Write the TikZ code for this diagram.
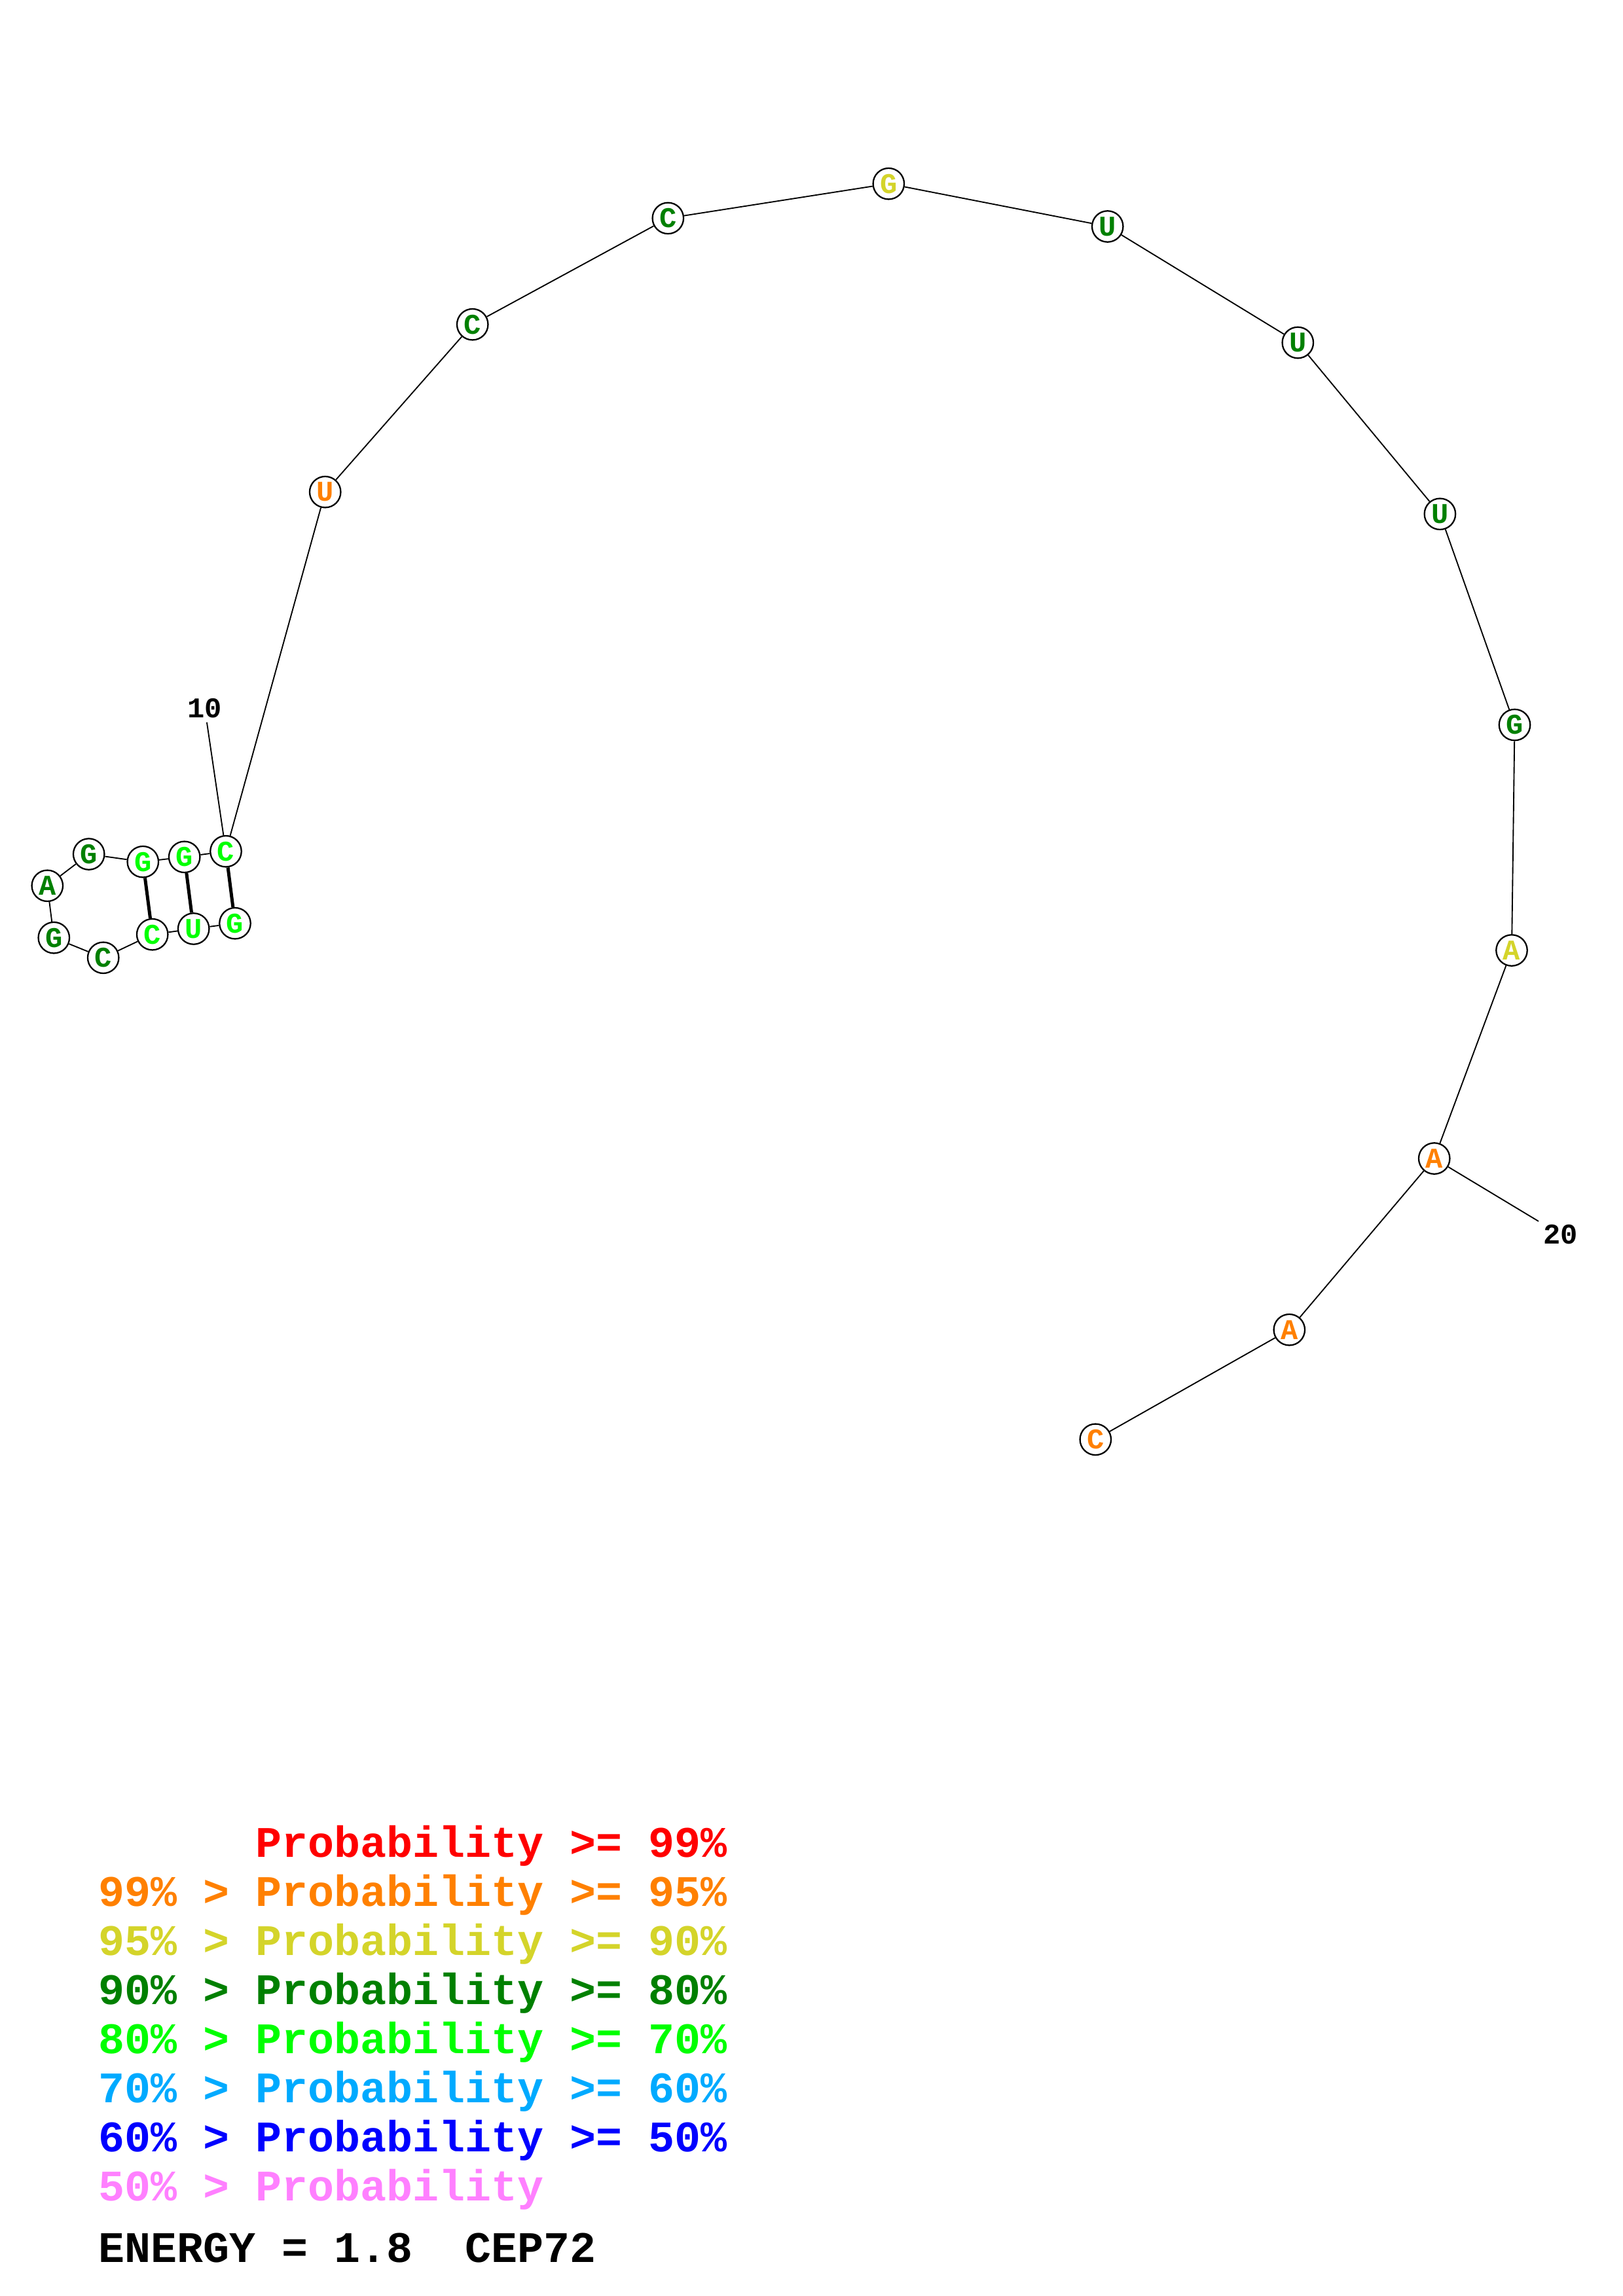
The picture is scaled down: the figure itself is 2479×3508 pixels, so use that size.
\documentclass[tikz,border=0pt]{standalone}
\usepackage{fontspec}
\setmonofont{Liberation Mono}
\definecolor{pred}{HTML}{FF0000}
\definecolor{porange}{HTML}{FF8000}
\definecolor{pyellow}{HTML}{D4D42A}
\definecolor{pdgreen}{HTML}{008000}
\definecolor{plime}{HTML}{00FF00}
\definecolor{psky}{HTML}{00AAFF}
\definecolor{pblue}{HTML}{0000FF}
\definecolor{ppink}{HTML}{FF80FF}
\begin{document}
\begin{tikzpicture}[x=0.24013pt,y=-0.24013pt,
  nt/.style={circle, draw=black, line width=0.55pt, fill=white, minimum size=11.4pt, inner sep=0pt,
    font=\ttfamily\bfseries\fontsize{10.5}{12}\selectfont},
  numlab/.style={inner sep=1.5pt, font=\ttfamily\bfseries\fontsize{10.5}{12}\selectfont},
  bb/.style={line width=0.45pt},
  pairline/.style={line width=1.2pt},
  leg/.style={anchor=base west, inner sep=0pt, font=\ttfamily\bfseries\fontsize{16}{18}\selectfont}]
\useasboundingbox (0,0) rectangle (2479,3508);
% nucleotides
\node[nt, text=plime]   (n1)  at (359,1410.7) {G};
\node[nt, text=plime]   (n2)  at (295.7,1419) {U};
\node[nt, text=plime]   (n3)  at (232.7,1427.7) {C};
\node[nt, text=pdgreen] (n4)  at (157.7,1463.3) {C};
\node[nt, text=pdgreen] (n5)  at (82.3,1432.7) {G};
\node[nt, text=pdgreen] (n6)  at (72.3,1353.3) {A};
\node[nt, text=pdgreen] (n7)  at (135.7,1305) {G};
\node[nt, text=plime]   (n8)  at (218.3,1316.7) {G};
\node[nt, text=plime]   (n9)  at (281.7,1309.3) {G};
\node[nt, text=plime]   (n10) at (345,1300.7) {C};
\node[nt, text=porange] (n11) at (496.7,751.7) {U};
\node[nt, text=pdgreen] (n12) at (721.7,495.7) {C};
\node[nt, text=pdgreen] (n13) at (1020.3,333.4) {C};
\node[nt, text=pyellow] (n14) at (1357.3,280.7) {G};
\node[nt, text=pdgreen] (n15) at (1691.7,346) {U};
\node[nt, text=pdgreen] (n16) at (1982.3,523.5) {U};
\node[nt, text=pdgreen] (n17) at (2199.4,785.3) {U};
\node[nt, text=pdgreen] (n18) at (2313.5,1107.5) {G};
\node[nt, text=pyellow] (n19) at (2309,1452) {A};
\node[nt, text=porange] (n20) at (2190.7,1770) {A};
\node[nt, text=porange] (n21) at (1969.3,2031.7) {A};
\node[nt, text=porange] (n22) at (1673.3,2199.3) {C};
% backbone
\foreach \a/\b in {1/2,2/3,3/4,4/5,5/6,6/7,7/8,8/9,9/10,10/11,11/12,12/13,13/14,14/15,15/16,16/17,17/18,18/19,19/20,20/21,21/22}
  \draw[bb] (n\a) -- (n\b);
% pairs
\draw[pairline] (n1) -- (n10);
\draw[pairline] (n2) -- (n9);
\draw[pairline] (n3) -- (n8);
% number labels
\node[numlab] (l10) at (312.7,1081.7) {10};
\node[numlab] (l20) at (2383.3,1886) {20};
\draw[bb] (l10) -- (n10);
\draw[bb] (l20) -- (n20);
% legend
\node[leg, text=pred]    (g1) at (150,2837) {\hphantom{99\%~>~}Probability >= 99\%};
\node[leg, text=porange] (g2) at (150,2912) {99\% > Probability >= 95\%};
\node[leg, text=pyellow] (g3) at (150,2987) {95\% > Probability >= 90\%};
\node[leg, text=pdgreen] (g4) at (150,3062) {90\% > Probability >= 80\%};
\node[leg, text=plime]   (g5) at (150,3137) {80\% > Probability >= 70\%};
\node[leg, text=psky]    (g6) at (150,3212) {70\% > Probability >= 60\%};
\node[leg, text=pblue]   (g7) at (150,3287) {60\% > Probability >= 50\%};
\node[leg, text=ppink]   (g8) at (150,3362) {50\% > Probability};
\node[leg, text=black]   (g9) at (150,3456) {ENERGY = 1.8~~CEP72};
\end{tikzpicture}
\end{document}
